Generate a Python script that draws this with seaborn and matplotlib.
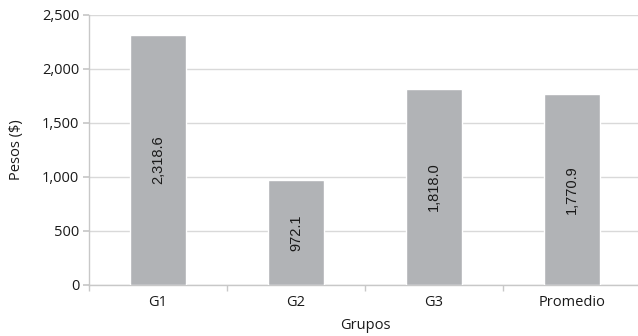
import matplotlib
matplotlib.use("Agg")
import matplotlib.pyplot as plt
import seaborn as sns
import pandas as pd
from matplotlib.ticker import FuncFormatter, FixedLocator

categories = ["G1", "G2", "G3", "Promedio"]
values = [2318.6, 972.1, 1818.0, 1770.9]
labels = ["2,318.6", "972.1", "1,818.0", "1,770.9"]

sns.set_theme(style="white")
plt.rcParams["font.family"] = ["Open Sans", "DejaVu Sans"]

df = pd.DataFrame({"Grupos": categories, "Pesos": values})

fig = plt.figure(figsize=(6.38, 3.36), dpi=100)
ax = fig.add_axes([89 / 638, 51 / 336, 552 / 638, 270 / 336])

sns.barplot(data=df, x="Grupos", y="Pesos", color="#b1b3b6", saturation=1,
            width=0.4, ax=ax, zorder=3)

ax.set_ylim(0, 2500)
ax.set_xlim(-0.5, 3.5)
ax.set_yticks(range(0, 2501, 500))
ax.yaxis.set_major_formatter(FuncFormatter(lambda v, p: f"{int(v):,}"))
ax.grid(axis="y", color="#d9d9d9", linewidth=1.0, zorder=0)
ax.set_axisbelow(True)

for s in ["top", "right"]:
    ax.spines[s].set_visible(False)
for s in ["left", "bottom"]:
    ax.spines[s].set_color("#c8c8c8")
    ax.spines[s].set_linewidth(1.0)

fs = 10.5
ax.tick_params(axis="y", length=4, color="#c8c8c8", labelsize=fs, labelcolor="#1a1a1a", pad=3, left=True)
ax.tick_params(axis="x", which="major", length=0, labelsize=fs, labelcolor="#1a1a1a", pad=7)
ax.xaxis.set_minor_locator(FixedLocator([-0.5, 0.5, 1.5, 2.5, 3.5]))
ax.tick_params(axis="x", which="minor", length=4, color="#c8c8c8", bottom=True)

ax.set_xlabel("Grupos", fontsize=fs, color="#1a1a1a", labelpad=6)
ax.set_ylabel("Pesos ($)", fontsize=fs, color="#1a1a1a", labelpad=13)

for i, (v, lab) in enumerate(zip(values, labels)):
    ax.text(i, v / 2, lab, rotation=90, ha="center", va="center", fontsize=fs,
            color="#1a1a1a", family=["Liberation Sans", "DejaVu Sans"], zorder=4)

fig.savefig("out.png", dpi=100)
